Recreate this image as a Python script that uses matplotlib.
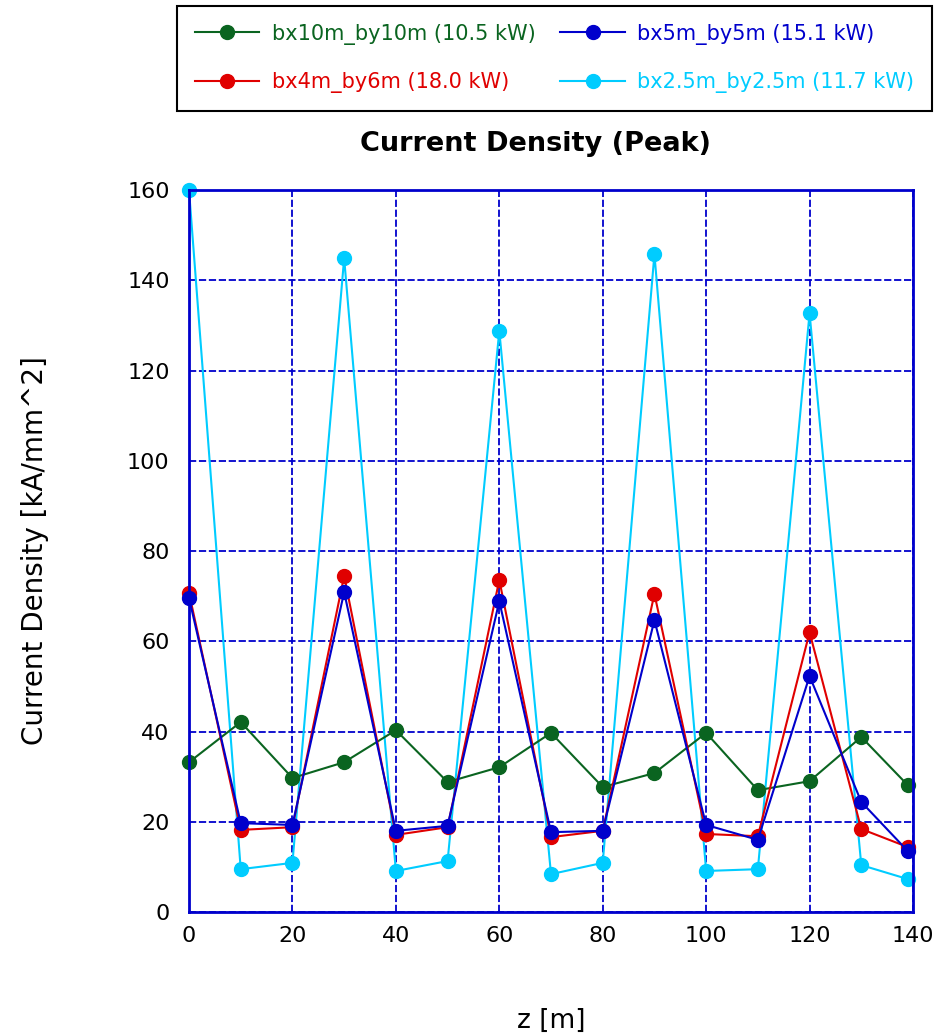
import matplotlib.pyplot as plt

plt.rcParams['font.family'] = ['DejaVu Sans']

z = [0, 10, 20, 30, 40, 50, 60, 70, 80, 90, 100, 110, 120, 130, 139]

bx10_by10 = [33.2, 42.1, 29.7, 33.2, 40.3, 28.8, 32.1, 39.7, 27.7, 30.8, 39.7, 27.0, 29.0, 38.8, 28.1]
bx4_by6 = [70.7, 18.2, 18.8, 74.5, 17.1, 18.8, 73.6, 16.6, 18.0, 70.5, 17.3, 16.8, 62.0, 18.4, 14.4]
bx5_by5 = [69.6, 19.7, 19.3, 70.9, 18.0, 19.1, 68.9, 17.7, 18.0, 64.7, 19.3, 16.0, 52.3, 24.4, 13.5]
bx25_by25 = [160.0, 9.5, 10.9, 144.9, 9.1, 11.3, 128.8, 8.4, 10.9, 145.8, 9.1, 9.5, 132.7, 10.4, 7.3]

series = [
    ('bx10m_by10m (10.5 kW)', bx10_by10, '#0a6420'),
    ('bx4m_by6m (18.0 kW)', bx4_by6, '#e00000'),
    ('bx5m_by5m (15.1 kW)', bx5_by5, '#0000cc'),
    ('bx2.5m_by2.5m (11.7 kW)', bx25_by25, '#00ccff'),
]
draw_order = [3, 0, 1, 2]

fig = plt.figure(figsize=(9.39, 10.35), dpi=100)
ax = fig.add_axes([0.2013, 0.1188, 0.771, 0.6976])

lines = {}
for i in draw_order:
    label, vals, col = series[i]
    ln, = ax.plot(z, vals, color=col, lw=1.5, marker='o', ms=10, label=label, clip_on=False)
    lines[i] = ln

ax.set_xlim(0, 140)
ax.set_ylim(0, 160)
ax.set_xticks(range(0, 141, 20))
ax.set_yticks(range(0, 161, 20))
ax.tick_params(labelsize=16, length=0)
ax.tick_params(axis='x', pad=10)
ax.tick_params(axis='y', pad=14)
ax.grid(True, color='#0000cc', linestyle=(0, (4, 1.5)), lw=1.3)
for s in ax.spines.values():
    s.set_color('#0000cc')
    s.set_linewidth(2)

ax.set_title('Current Density (Peak)', fontsize=19.5, fontweight='bold', pad=28, x=0.478)
ax.set_xlabel('z [m]', fontsize=19, labelpad=45)
ax.set_ylabel('Current Density [kA/mm^2]', fontsize=20, labelpad=56)

handles = [lines[i] for i in range(4)]
leg = fig.legend(handles, [h.get_label() for h in handles], loc='upper left',
                 bbox_to_anchor=(177 / 939, 1 - 107 / 1035, 755 / 939, 101 / 1035),
                 mode='expand', ncol=2, fontsize=15, labelcolor='linecolor',
                 fancybox=False, edgecolor='black', framealpha=1,
                 handlelength=3.1, handletextpad=0.6, columnspacing=0.5,
                 borderaxespad=0, labelspacing=1.3, borderpad=0.85)
leg.get_frame().set_linewidth(1.5)

fig.savefig('out.png', dpi=100)
